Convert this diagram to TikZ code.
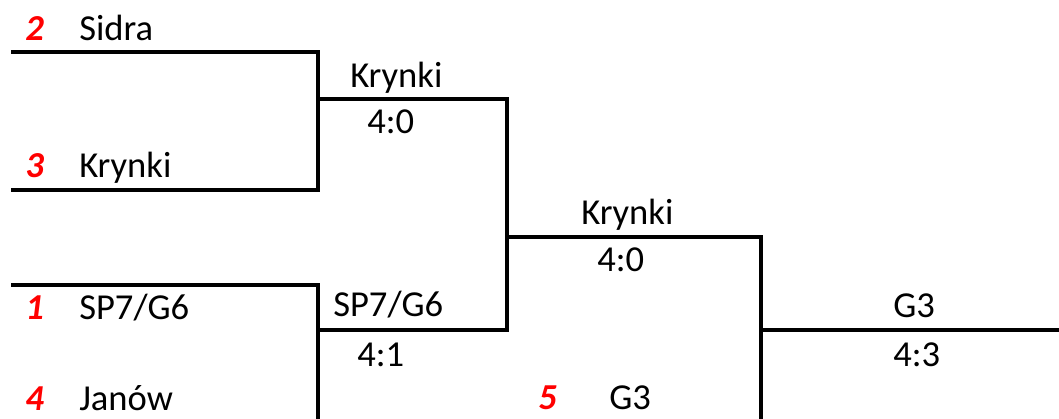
\documentclass[tikz,border=0pt]{standalone}
\usepackage{fontspec}
\setmainfont{Carlito}
\tikzset{
  team/.style={anchor=base west, inner sep=0pt},
  seed/.style={anchor=base west, inner sep=0pt, text=red, font=\bfseries\itshape\fontsize{26}{30}\selectfont},
  bracket/.style={line width=2.4pt},
}
\begin{document}
\begin{tikzpicture}[x=0.025cm,y=-0.025cm,font=\fontsize{26}{30}\selectfont]
\useasboundingbox (0,0) rectangle (1059,419);
%\draw[step=50,gray,very thin] (0,0) grid (1059,419); %background grid
% first round
\draw[bracket] (11,52) -- (318,52) -- (318,190) -- (11,190);
\draw[bracket] (11,285) -- (318,285) -- (318,419);
% second round
\draw[bracket] (318,99) -- (507,99) -- (507,330) -- (318,330);
% semi final
\draw[bracket] (507,237) -- (761,237) -- (761,419);
% final
\draw[bracket] (761,330) -- (1059,330);
% seeds and teams
\node[seed] (s2) at (25,41) {2};
\node[team] (sidra) at (79,41) {Sidra};
\node[seed] (s3) at (25,178) {3};
\node[team] (krynki) at (79,178) {Krynki};
\node[seed] (s1) at (25,320) {1};
\node[team] (sp7) at (79,320) {SP7/G6};
\node[seed] (s4) at (25,410) {4};
\node[team] (janow) at (79,410) {Janów};
\node[seed] (s5) at (538,409) {5};
\node[team] (g3) at (609,409) {G3};
% winners and scores
\node[team] (w1) at (350,88) {Krynki};
\node[team] (r1) at (367,134) {4:0};
\node[team] (w2) at (333,317) {SP7/G6};
\node[team] (r2) at (357,366) {4:1};
\node[team] (w3) at (581,225) {Krynki};
\node[team] (r3) at (597,272) {4:0};
\node[team] (w4) at (893,318) {G3};
\node[team] (r4) at (893,366) {4:3};
\end{tikzpicture}
\end{document}
